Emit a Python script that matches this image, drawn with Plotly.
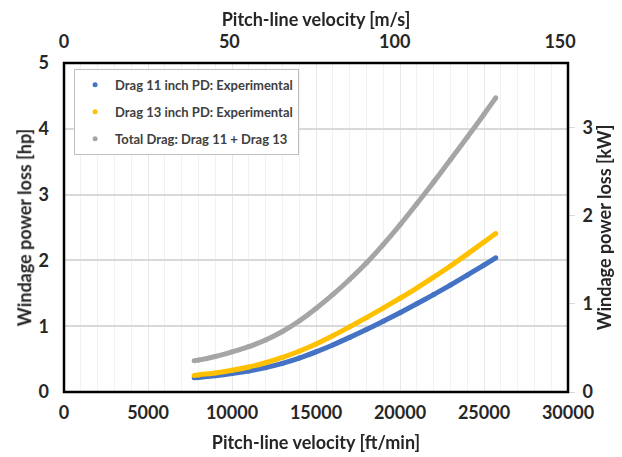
import plotly.graph_objects as go

# ---------------- data ----------------
velocity_ftmin = [7750, 8000, 9000, 10000, 11000, 12000, 13000, 14000, 15000, 16000,
                  17000, 18000, 19000, 20000, 21000, 22000, 23000, 24000, 25000, 25700]
drag11_hp = [0.215, 0.222, 0.248, 0.28, 0.32, 0.37, 0.435, 0.515, 0.61, 0.715,
             0.83, 0.95, 1.075, 1.205, 1.34, 1.48, 1.625, 1.775, 1.93, 2.04]
drag13_hp = [0.25, 0.26, 0.29, 0.33, 0.38, 0.445, 0.525, 0.62, 0.73, 0.855,
             0.99, 1.13, 1.275, 1.425, 1.58, 1.745, 1.915, 2.095, 2.28, 2.41]
total_hp = [0.475, 0.485, 0.54, 0.61, 0.69, 0.79, 0.92, 1.08, 1.27, 1.48,
            1.71, 1.96, 2.24, 2.54, 2.86, 3.19, 3.53, 3.87, 4.22, 4.47]

series_names = ["Drag 11 inch PD: Experimental",
                "Drag 13 inch PD: Experimental",
                "Total Drag: Drag 11 + Drag 13"]
series_colors = ["#4472C4", "#FFC000", "#A5A5A5"]

x_ticks_ftmin = [0, 5000, 10000, 15000, 20000, 25000, 30000]
x_ticks_ms = [0, 50, 100, 150]
y_ticks_hp = [0, 1, 2, 3, 4, 5]
y_ticks_kw = [0, 1, 2, 3]

FTMIN_TO_MS = 0.00508
HP_TO_KW = 0.745699872

X_MAX = 30000
Y_MAX = 5

FONT = "Lato"
TXT = "#262626"

fig = go.Figure()

for name, vals, color in zip(series_names, [drag11_hp, drag13_hp, total_hp], series_colors):
    fig.add_trace(go.Scatter(
        x=velocity_ftmin, y=vals, mode="lines", showlegend=False,
        line=dict(color=color, width=5, shape="spline", smoothing=0.6),
        hoverinfo="skip", legendgroup=name))
    fig.add_trace(go.Scatter(
        x=velocity_ftmin, y=vals, mode="markers", name=name, legendgroup=name,
        marker=dict(color=color, size=5)))

# invisible trace so the secondary (SI) axes are drawn
fig.add_trace(go.Scatter(
    x=[v * FTMIN_TO_MS for v in velocity_ftmin],
    y=[t * HP_TO_KW for t in total_hp],
    xaxis="x2", yaxis="y2", mode="markers", opacity=0,
    showlegend=False, hoverinfo="skip"))

tickfont = dict(family=FONT, size=18, color=TXT, weight="bold")
titlefont = dict(family=FONT, size=18, color=TXT, weight="bold")

# the page body adds an 8px margin, so the figure is 8px smaller than the window
fig.update_layout(
    width=614, height=449,
    margin=dict(l=56, r=54, t=55, b=65),
    paper_bgcolor="white", plot_bgcolor="white",
    xaxis=dict(
        range=[0, X_MAX], tickvals=x_ticks_ftmin, tickformat="d", tickfont=tickfont,
        title=dict(text="Pitch-line velocity [ft/min]", font=titlefont, standoff=14),
        showgrid=True, gridcolor="#E8E8E8", gridwidth=1,
        minor=dict(dtick=1000, showgrid=True, gridcolor="#F2F2F2", gridwidth=1),
        zeroline=False, showline=False, ticks="", ticklabelstandoff=8,
        automargin=False),
    xaxis2=dict(
        range=[0, X_MAX * FTMIN_TO_MS], tickvals=x_ticks_ms, tickfont=tickfont,
        overlaying="x", side="top", anchor="y",
        title=dict(text="Pitch-line velocity [m/s]", font=titlefont, standoff=1),
        showgrid=False, zeroline=False, showline=False, ticks="",
        ticklabelstandoff=10, automargin=False),
    yaxis=dict(
        range=[0, Y_MAX], tickvals=y_ticks_hp, tickfont=tickfont,
        title=dict(text="Windage power loss [hp]", font=titlefont, standoff=2),
        showgrid=True, gridcolor="#D9D9D9", gridwidth=1.5,
        zeroline=False, showline=False, ticks="", ticklabelstandoff=14,
        automargin=False),
    yaxis2=dict(
        range=[0, Y_MAX * HP_TO_KW], tickvals=y_ticks_kw, tickfont=tickfont,
        overlaying="y", side="right", anchor="x",
        title=dict(text="Windage power loss [kW]", font=titlefont, standoff=5),
        showgrid=False, zeroline=False, showline=False,
        ticks="outside", ticklen=6, tickcolor="#D9D9D9", ticklabelstandoff=4,
        automargin=False),
    legend=dict(
        x=0.02, y=0.982, xanchor="left", yanchor="top",
        bgcolor="white", bordercolor="#BFBFBF", borderwidth=1,
        font=dict(family=FONT, size=13, color="#404040", weight="bold"),
        tracegroupgap=7),
    shapes=[dict(type="rect", xref="paper", yref="paper", x0=0, x1=1, y0=0, y1=1,
                 line=dict(color="black", width=2.5), layer="above")],
)

fig.write_html("out.html")
